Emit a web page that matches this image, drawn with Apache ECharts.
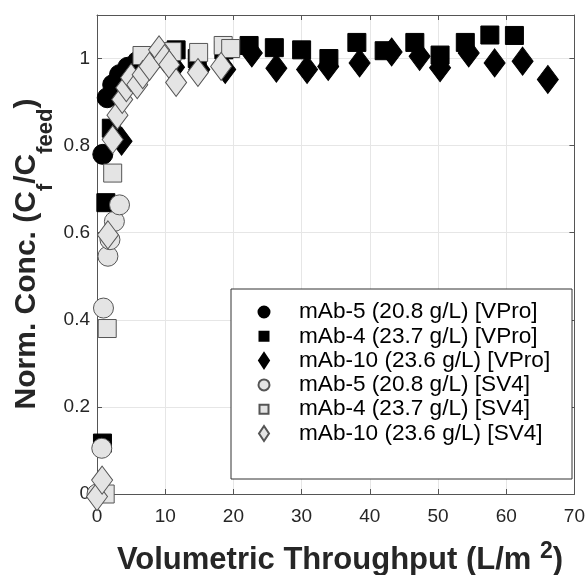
<!DOCTYPE html>
<html>
<head>
<meta charset="utf-8">
<script src="https://cdn.jsdelivr.net/npm/echarts@6/dist/echarts.min.js"></script>
<style>html,body{margin:0;padding:0;background:#fff}#c{width:588px;height:575px}</style>
</head>
<body>
<div id="c"></div>
<script>
// ---- data ----
const xTicks = [0, 10, 20, 30, 40, 50, 60, 70];
const yTicks = [0, 0.2, 0.4, 0.6, 0.8, 1];

const vproMab5X = [0.85, 1.5, 2.3, 3.3, 4.5, 5.9, 7.1];
const vproMab5Y = [0.78, 0.91, 0.94, 0.963, 0.98, 0.993, 1.0];

const vproMab4X = [0.8, 1.3, 2.1, 8.0, 11.6, 14.7, 18.6, 22.3, 26.0, 30.0, 34.0, 38.1, 42.1, 46.6, 50.3, 54.0, 57.6, 61.2];
const vproMab4Y = [0.117, 0.669, 0.84, 1.0, 1.02, 1.0, 1.02, 1.03, 1.025, 1.02, 1.0, 1.037, 1.018, 1.037, 1.008, 1.037, 1.054, 1.053];

const vproMab10X = [3.6, 11.3, 15.0, 18.8, 22.7, 26.3, 30.8, 33.9, 38.5, 43.2, 47.3, 50.3, 54.5, 58.3, 62.4, 66.1];
const vproMab10Y = [0.81, 0.98, 0.975, 0.975, 1.013, 0.978, 0.975, 0.982, 0.99, 1.015, 1.005, 0.979, 1.013, 0.99, 0.994, 0.952];

const sv4Mab5X = [0.0, 0.7, 0.95, 1.6, 1.9, 2.55, 3.3];
const sv4Mab5Y = [0.0, 0.105, 0.427, 0.546, 0.584, 0.626, 0.664];

const sv4Mab4X = [1.2, 1.5, 2.3, 6.6, 11.0, 14.9, 18.5, 19.6];
const sv4Mab4Y = [0.0, 0.38, 0.737, 1.007, 1.016, 1.014, 1.03, 1.023];

const sv4Mab10X = [0.0, 0.75, 1.6, 2.3, 3.0, 3.7, 4.3, 5.0, 5.9, 6.7, 7.7, 9.1, 9.9, 10.6, 11.6, 14.8, 18.2];
const sv4Mab10Y = [-0.006, 0.032, 0.595, 0.814, 0.87, 0.906, 0.933, 0.956, 0.94, 0.963, 0.982, 1.02, 1.0, 0.986, 0.945, 0.968, 0.982];

const seriesNames = [
  'mAb-5 (20.8 g/L) [VPro]',
  'mAb-4 (23.7 g/L) [VPro]',
  'mAb-10 (23.6 g/L) [VPro]',
  'mAb-5 (20.8 g/L) [SV4]',
  'mAb-4 (23.7 g/L) [SV4]',
  'mAb-10 (23.6 g/L) [SV4]'
];

// ---- styling / layout ----
const FONT = '"Liberation Sans", Arial, Helvetica, sans-serif';
const pair = (xs, ys) => xs.map((x, i) => [x, ys[i]]);
const dark = { color: '#000', borderColor: '#000', borderWidth: 1, opacity: 1 };
const light = { color: '#e4e4e4', borderColor: '#555', borderWidth: 1, opacity: 1 };
const symbols = ['circle', 'rect', 'diamond', 'circle', 'rect', 'diamond'];
const sizes = [20, 18, [21, 28], 20, 18, [21, 28]];
const styles = [dark, dark, dark, light, light, light];
const xsAll = [vproMab5X, vproMab4X, vproMab10X, sv4Mab5X, sv4Mab4X, sv4Mab10X];
const ysAll = [vproMab5Y, vproMab4Y, vproMab10Y, sv4Mab5Y, sv4Mab4Y, sv4Mab10Y];

const legendIconSize = [[11, 11], [9, 9], [10, 15], [11, 11], [9, 9], [10, 15]];
const legendIconCx = 263, legendTextX = 298, legendRow0 = 312, legendRowGap = 24.3;

const axisColor = '#555';
const gridColor = '#e6e6e6';

const chart = echarts.init(document.getElementById('c'), null, { renderer: 'canvas' });

const series = seriesNames.map((name, i) => ({
  name,
  type: 'scatter',
  xAxisIndex: 0,
  yAxisIndex: 0,
  symbol: symbols[i],
  symbolSize: sizes[i],
  itemStyle: styles[i],
  clip: false,
  z: 2,
  emphasis: { disabled: true },
  data: pair(xsAll[i], ysAll[i])
}));

const legends = seriesNames.map((name, i) => {
  const [w, h] = legendIconSize[i];
  return {
    data: [name],
    orient: 'vertical',
    left: legendIconCx - w / 2,
    top: legendRow0 + i * legendRowGap - 11.5,
    padding: 0,
    itemWidth: w,
    itemHeight: h,
    selectedMode: false,
    z: 6,
    textStyle: {
      fontFamily: FONT,
      fontSize: 22.6,
      lineHeight: 23,
      color: '#000',
      padding: [0, 0, 0, legendTextX - (legendIconCx + w / 2) - 5]
    }
  };
});

const option = {
  animation: false,
  backgroundColor: '#fff',
  grid: { left: 97, right: 10, top: 15, bottom: 81, containLabel: false },
  xAxis: [{
    type: 'value', min: 0, max: 70, interval: 10, position: 'bottom',
    axisLine: { show: true, lineStyle: { color: axisColor, width: 1 } },
    axisTick: { show: true, inside: true, length: 5, lineStyle: { color: axisColor } },
    axisLabel: { show: true, margin: 13, color: '#262626', fontSize: 19, fontFamily: FONT },
    splitLine: { show: true, lineStyle: { color: gridColor, width: 1 } }
  }, {
    type: 'value', min: 0, max: 70, interval: 10, position: 'top',
    axisLine: { show: true, onZero: false, lineStyle: { color: axisColor, width: 1 } },
    axisTick: { show: true, inside: true, length: 5, lineStyle: { color: axisColor } },
    axisLabel: { show: false },
    splitLine: { show: false }
  }],
  yAxis: [{
    type: 'value', min: 0, max: 1.1, interval: 0.2, position: 'left',
    axisLine: { show: true, onZero: false, lineStyle: { color: axisColor, width: 1 } },
    axisTick: { show: true, inside: true, length: 5, lineStyle: { color: axisColor } },
    axisLabel: {
      show: true, margin: 7, color: '#262626', fontSize: 19, fontFamily: FONT,
      showMaxLabel: false,
      formatter: v => (yTicks.some(t => Math.abs(t - v) < 1e-6) ? String(+v.toFixed(1)) : '')
    },
    splitLine: { show: true, lineStyle: { color: gridColor, width: 1 } }
  }, {
    type: 'value', min: 0, max: 1.1, interval: 0.2, position: 'right',
    axisLine: { show: true, onZero: false, lineStyle: { color: axisColor, width: 1 } },
    axisTick: { show: true, inside: true, length: 5, lineStyle: { color: axisColor } },
    axisLabel: { show: false },
    splitLine: { show: false }
  }],
  legend: legends,
  graphic: [
    {
      type: 'rect', z: 5, zlevel: 0,
      shape: { x: 231, y: 289, width: 341, height: 190 },
      style: { fill: '#fff', stroke: '#333', lineWidth: 1 }
    },
    {
      type: 'text', z: 5,
      x: 340, y: 560,
      style: {
        text: '{a|Volumetric Throughput (L/m }{s|2}{a|)}',
        align: 'center', verticalAlign: 'middle',
        fill: '#262626',
        rich: {
          a: { fontFamily: FONT, fontSize: 31, fontWeight: 'bold', lineHeight: 40, fill: '#262626' },
          s: { fontFamily: FONT, fontSize: 23, fontWeight: 'bold', lineHeight: 24, verticalAlign: 'top', fill: '#262626' }
        }
      }
    },
    {
      type: 'text', z: 5,
      x: 27, y: 254, rotation: Math.PI / 2,
      style: {
        text: '{a|Norm. Conc. (C}{s|f}{a|/C}{s|feed}{a|)}',
        align: 'center', verticalAlign: 'middle',
        fill: '#262626',
        rich: {
          a: { fontFamily: FONT, fontSize: 30, fontWeight: 'bold', lineHeight: 60, fill: '#262626' },
          s: { fontFamily: FONT, fontSize: 22, fontWeight: 'bold', lineHeight: 24, verticalAlign: 'bottom', fill: '#262626' }
        }
      }
    }
  ],
  series
};
chart.setOption(option);
</script>
</body>
</html>
